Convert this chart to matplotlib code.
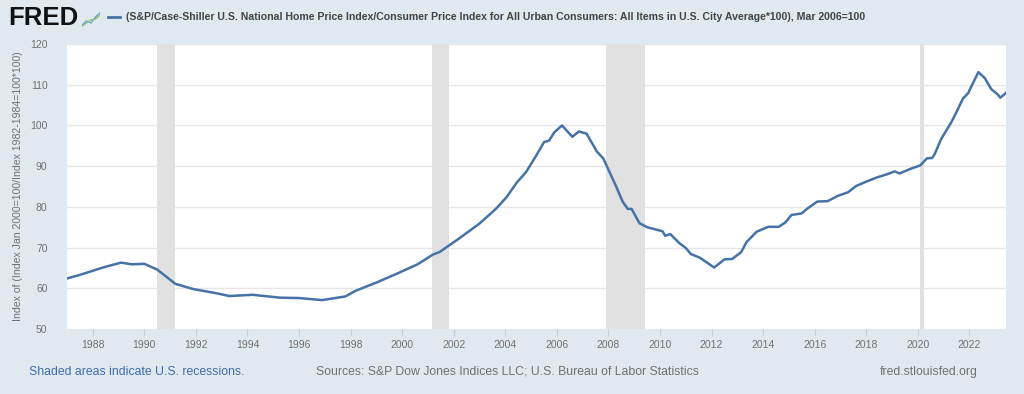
import matplotlib
matplotlib.use("Agg")
import matplotlib.pyplot as plt
from matplotlib.lines import Line2D

# ---------------------------------------
# DATA (decimal years)
# ---------------------------------------
years = [
    1987.0, 1987.5, 1988.0, 1988.5, 1989.1, 1989.5, 1990.0, 1990.5, 1991.2, 1991.9,
    1992.7, 1993.3, 1994.2, 1995.25, 1996.0, 1996.9, 1997.8, 1998.2, 1999.0, 1999.8,
    2000.6, 2001.2, 2001.45, 2002.2, 2003.0, 2003.65, 2004.05, 2004.45, 2004.8, 2005.2,
    2005.5, 2005.7, 2005.9, 2006.2, 2006.6, 2006.85, 2007.15, 2007.55, 2007.8, 2008.3,
    2008.55, 2008.75, 2008.9, 2009.2, 2009.5, 2010.1, 2010.2, 2010.4, 2010.75, 2011.0,
    2011.2, 2011.55, 2012.1, 2012.5, 2012.8, 2013.15, 2013.35, 2013.75, 2014.2, 2014.6,
    2014.85, 2015.1, 2015.5, 2015.7, 2016.1, 2016.5, 2016.9, 2017.3, 2017.6, 2018.0,
    2018.4, 2018.8, 2019.1, 2019.3, 2019.7, 2020.1, 2020.35, 2020.55, 2020.65, 2020.9,
    2021.3, 2021.5, 2021.75, 2021.95, 2022.1, 2022.35, 2022.6, 2022.85, 2023.1, 2023.2,
    2023.42,
]
values = [
    62.4, 63.3, 64.3, 65.3, 66.3, 65.9, 66.0, 64.6, 61.1, 59.8,
    58.9, 58.1, 58.4, 57.7, 57.6, 57.1, 58.0, 59.4, 61.4, 63.6,
    65.9, 68.3, 68.9, 72.2, 75.9, 79.6, 82.4, 86.0, 88.5, 92.6,
    95.9, 96.3, 98.3, 100.0, 97.2, 98.5, 98.0, 93.6, 91.9, 85.0,
    81.3, 79.5, 79.5, 76.0, 75.0, 74.0, 72.9, 73.3, 71.1, 69.9,
    68.4, 67.5, 65.1, 67.1, 67.2, 68.9, 71.3, 73.9, 75.1, 75.1,
    76.1, 78.0, 78.4, 79.5, 81.3, 81.4, 82.7, 83.6, 85.1, 86.2,
    87.2, 88.0, 88.7, 88.2, 89.3, 90.2, 91.9, 92.0, 92.9, 96.6,
    100.8, 103.3, 106.6, 107.9, 109.9, 113.1, 111.6, 108.9, 107.6, 106.8,
    108.0,
]

# recessions (start, end)
rec_start = [1990.5, 2001.17, 2007.92, 2020.08]
rec_end = [1991.17, 2001.83, 2009.42, 2020.25]

xtick_years = list(range(1988, 2023, 2))
ytick_vals = [50, 60, 70, 80, 90, 100, 110, 120]

title_text = ("(S&P/Case-Shiller U.S. National Home Price Index/Consumer Price Index for All "
              "Urban Consumers: All Items in U.S. City Average*100), Mar 2006=100")
ylabel_text = "Index of (Index Jan 2000=100/Index 1982-1984=100*100)"

# ---------------------------------------
# COLOURS / FONTS
# ---------------------------------------
BG = "#e1e9f0"
LINE = "#4572a7"
GRID = "#e6e6e6"
REC = "#e1e1e1"
TXT = "#707070"
plt.rcParams["font.family"] = ["Liberation Sans", "DejaVu Sans"]

# ---------------------------------------
# DRAW
# ---------------------------------------
fig = plt.figure(figsize=(10.24, 3.94), dpi=100, facecolor=BG)
ax = fig.add_axes([67 / 1024, 1 - 329 / 394, (1006 - 67) / 1024, (329 - 44) / 394])
ax.set_facecolor("white")

for s, e in zip(rec_start, rec_end):
    ax.axvspan(s, e, color=REC, lw=0, zorder=1)

ax.plot(years, values, color=LINE, lw=1.8, zorder=3, solid_joinstyle="round")

ax.set_xlim(1987.0, 2023.42)
ax.set_ylim(50, 120)
ax.set_yticks(ytick_vals)
ax.set_xticks(xtick_years)
ax.set_xticklabels([str(y) for y in xtick_years])
ax.yaxis.grid(True, color=GRID, lw=1)
ax.set_axisbelow(True)
for sp in ax.spines.values():
    sp.set_visible(False)
ax.tick_params(axis="y", length=0, labelsize=7.5, labelcolor=TXT, pad=14)
ax.tick_params(axis="x", length=5, width=0.8, color="#cccccc", labelsize=7.5,
               labelcolor=TXT, pad=3)
ax.set_ylabel(ylabel_text, fontsize=7.6, color=TXT, labelpad=5)

# header: FRED logo + legend-like title
fig.text(8 / 1024, 1 - 18 / 394, "FRED", fontsize=18.5, fontweight="bold",
         color="#111111", va="center", ha="left")
# little logo chart icon
icon = fig.add_axes([82 / 1024, 1 - 27 / 394, 18 / 1024, 16 / 394])
icon.set_xlim(0, 4)
icon.set_ylim(0, 4)
icon.axis("off")
icon.plot([0, 1, 2, 3, 4], [0.5, 1.5, 1.0, 2.5, 3.5], color="#6aa0d8", lw=1)
icon.plot([0, 1, 2, 3, 4], [0.2, 1.0, 1.8, 2.0, 3.0], color="#8cc46c", lw=1)
icon.plot([0, 1, 2, 3, 4], [0.0, 0.0, 0.0, 0.0, 0.0], color="#cccccc", lw=0.8)

fig.add_artist(Line2D([108 / 1024, 120 / 1024], [1 - 17 / 394, 1 - 17 / 394],
                      color=LINE, lw=2))
fig.text(126 / 1024, 1 - 17 / 394, title_text, fontsize=7.6, fontweight="bold",
         color="#444444", va="center", ha="left")

# footer
fig.text(29 / 1024, 1 - 372 / 394, "Shaded areas indicate U.S. recessions.",
         fontsize=8.85, color="#3b6cb0", va="center", ha="left")
fig.text(316 / 1024, 1 - 372 / 394,
         "Sources: S&P Dow Jones Indices LLC; U.S. Bureau of Labor Statistics",
         fontsize=8.85, color=TXT, va="center", ha="left")
fig.text(978 / 1024, 1 - 372 / 394, "fred.stlouisfed.org",
         fontsize=8.85, color=TXT, va="center", ha="right")

fig.savefig("out.png", dpi=100, facecolor=BG)
